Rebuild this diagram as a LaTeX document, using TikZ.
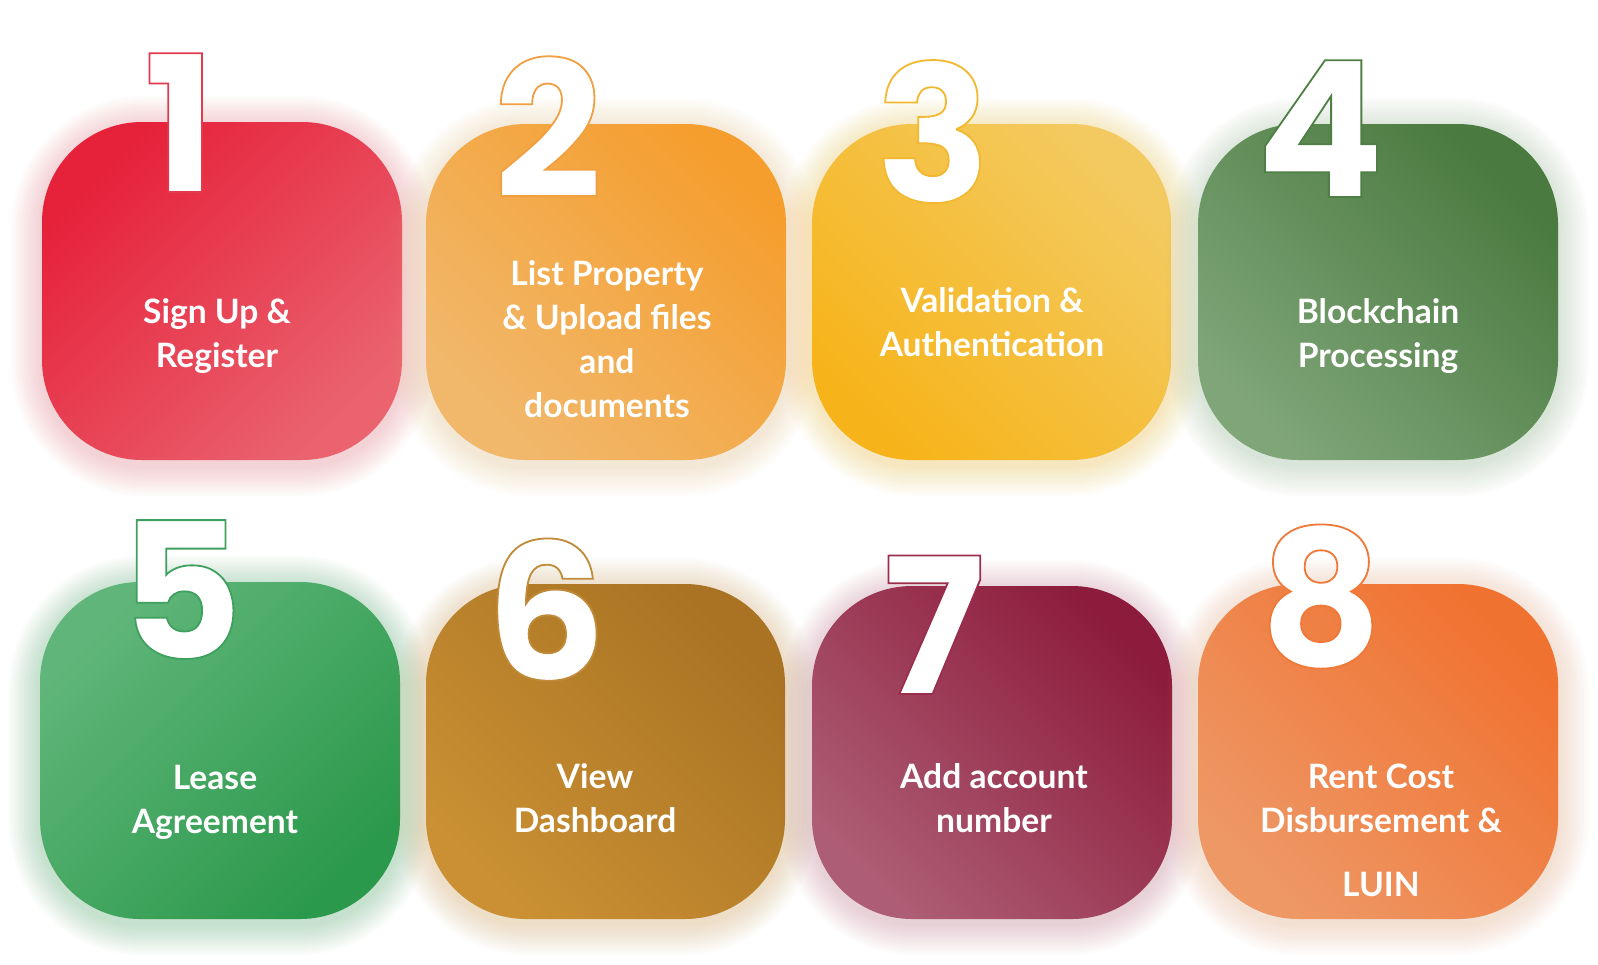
\documentclass[tikz,border=0pt]{standalone}
\usepackage{fontspec}
\newfontfamily\lblfont{Lato}
\newfontfamily\numfont{Poppins}

\definecolor{c1a}{HTML}{E6213A}\definecolor{c1b}{HTML}{EA636F}
\definecolor{c2a}{HTML}{F59E2E}\definecolor{c2b}{HTML}{F1B86C}
\definecolor{c3a}{HTML}{F3CA60}\definecolor{c3b}{HTML}{F7B41A}
\definecolor{c4a}{HTML}{4A7A3F}\definecolor{c4b}{HTML}{7FA579}
\definecolor{c5a}{HTML}{60B67A}\definecolor{c5b}{HTML}{2B994B}
\definecolor{c6a}{HTML}{A97323}\definecolor{c6b}{HTML}{CA9033}
\definecolor{c7a}{HTML}{8D1C3C}\definecolor{c7b}{HTML}{AD5D75}
\definecolor{c8a}{HTML}{F07230}\definecolor{c8b}{HTML}{EE9866}

\tikzset{
  cardbox/.style={rectangle, rounded corners=50pt, draw=none, inner sep=0pt},
  cardlabel/.style={font=\lblfont\bfseries\fontsize{16.8}{22}\selectfont, text=white, align=center, inner sep=0pt},
  bignum/.style={font=\numfont\bfseries\fontsize{95}{95}\selectfont, text=white, anchor=base, inner sep=0pt},
}

% white digit with a thin coloured outline (fill + stroke text render mode)
% #1 stroke colour as "r g b", #2 text
\newcommand\outlinedtext[2]{%
  \special{pdf:literal direct 2 Tr 0.9 w #1 RG}#2\special{pdf:literal direct 0 Tr}}

% #1 name, #2-#5 corners (x1,y1,x2,y2), #6 colour A, #7 colour B, #8 shading angle
\newcommand\stepcard[8]{%
  \foreach \i in {1,...,12}{%
    \fill[#7, opacity=0.024, rounded corners={50pt+\i*1.4pt}]
      ({#2-\i*2.6},{#3-\i*2.6+5}) rectangle ({#4+\i*2.6},{#5+\i*2.6+5});
  }%
  \node (#1) [cardbox, top color=#6, bottom color=#7, shading angle=#8,
    minimum width={(#4-#2)*0.5pt}, minimum height={(#5-#3)*0.5pt}]
    at ({(#2+#4)/2},{(#3+#5)/2}) {};%
}
% #1 name, #2 x, #3 baseline y, #4 outline colour "r g b", #5 digit
\newcommand\stepnum[5]{%
  \node (#1) [bignum] at (#2,#3) {\outlinedtext{#4}{#5}};
}

\begin{document}
\begin{tikzpicture}[x=0.5pt,y=-0.5pt]
\useasboundingbox (0,0) rectangle (1598,964);
\fill[white] (0,0) rectangle (1598,964);

% cards, top row
\stepcard{b1}{42}{122}{402}{460}{c1a}{c1b}{45}
\stepcard{b2}{426}{124}{786}{460}{c2a}{c2b}{-45}
\stepcard{b3}{812}{124}{1171}{460}{c3a}{c3b}{-45}
\stepcard{b4}{1198}{124}{1558}{460}{c4a}{c4b}{-45}
% cards, bottom row
\stepcard{b5}{40}{582}{400}{919}{c5a}{c5b}{45}
\stepcard{b6}{426}{584}{785}{919}{c6a}{c6b}{-45}
\stepcard{b7}{812}{586}{1172}{919}{c7a}{c7b}{-45}
\stepcard{b8}{1198}{584}{1558}{919}{c8a}{c8b}{-45}

% step numbers
\stepnum{n1}{180}{192}{0.886 0.227 0.306}{1}
\stepnum{n2}{548}{198}{0.941 0.627 0.251}{2}
\stepnum{n3}{933}{202}{0.949 0.722 0.188}{3}
\stepnum{n4}{1320}{197}{0.306 0.498 0.271}{4}
\stepnum{n5}{181}{659}{0.247 0.627 0.376}{5}
\stepnum{n6}{546}{680}{0.753 0.541 0.220}{6}
\stepnum{n7}{934}{694}{0.604 0.180 0.298}{7}
\stepnum{n8}{1321}{666}{0.941 0.471 0.220}{8}

% step labels
\node (l1) [cardlabel] at (217,336) {Sign Up \&\\Register};
\node (l2) [cardlabel] at (607,339) {List Property\\\& Upload files\\and\\documents};
\node (l3) [cardlabel] at (992,322) {Validation \&\\Authentication};
\node (l4) [cardlabel] at (1378,336) {Blockchain\\Processing};
\node (l5) [cardlabel] at (215,802) {Lease\\Agreement};
\node (l6) [cardlabel] at (595,798) {View\\Dashboard};
\node (l7) [cardlabel] at (994,798) {Add account\\number};
\node (l8) [cardlabel] at (1381,830) {Rent Cost\\Disbursement \&\\[10pt]LUIN};
\end{tikzpicture}
\end{document}
